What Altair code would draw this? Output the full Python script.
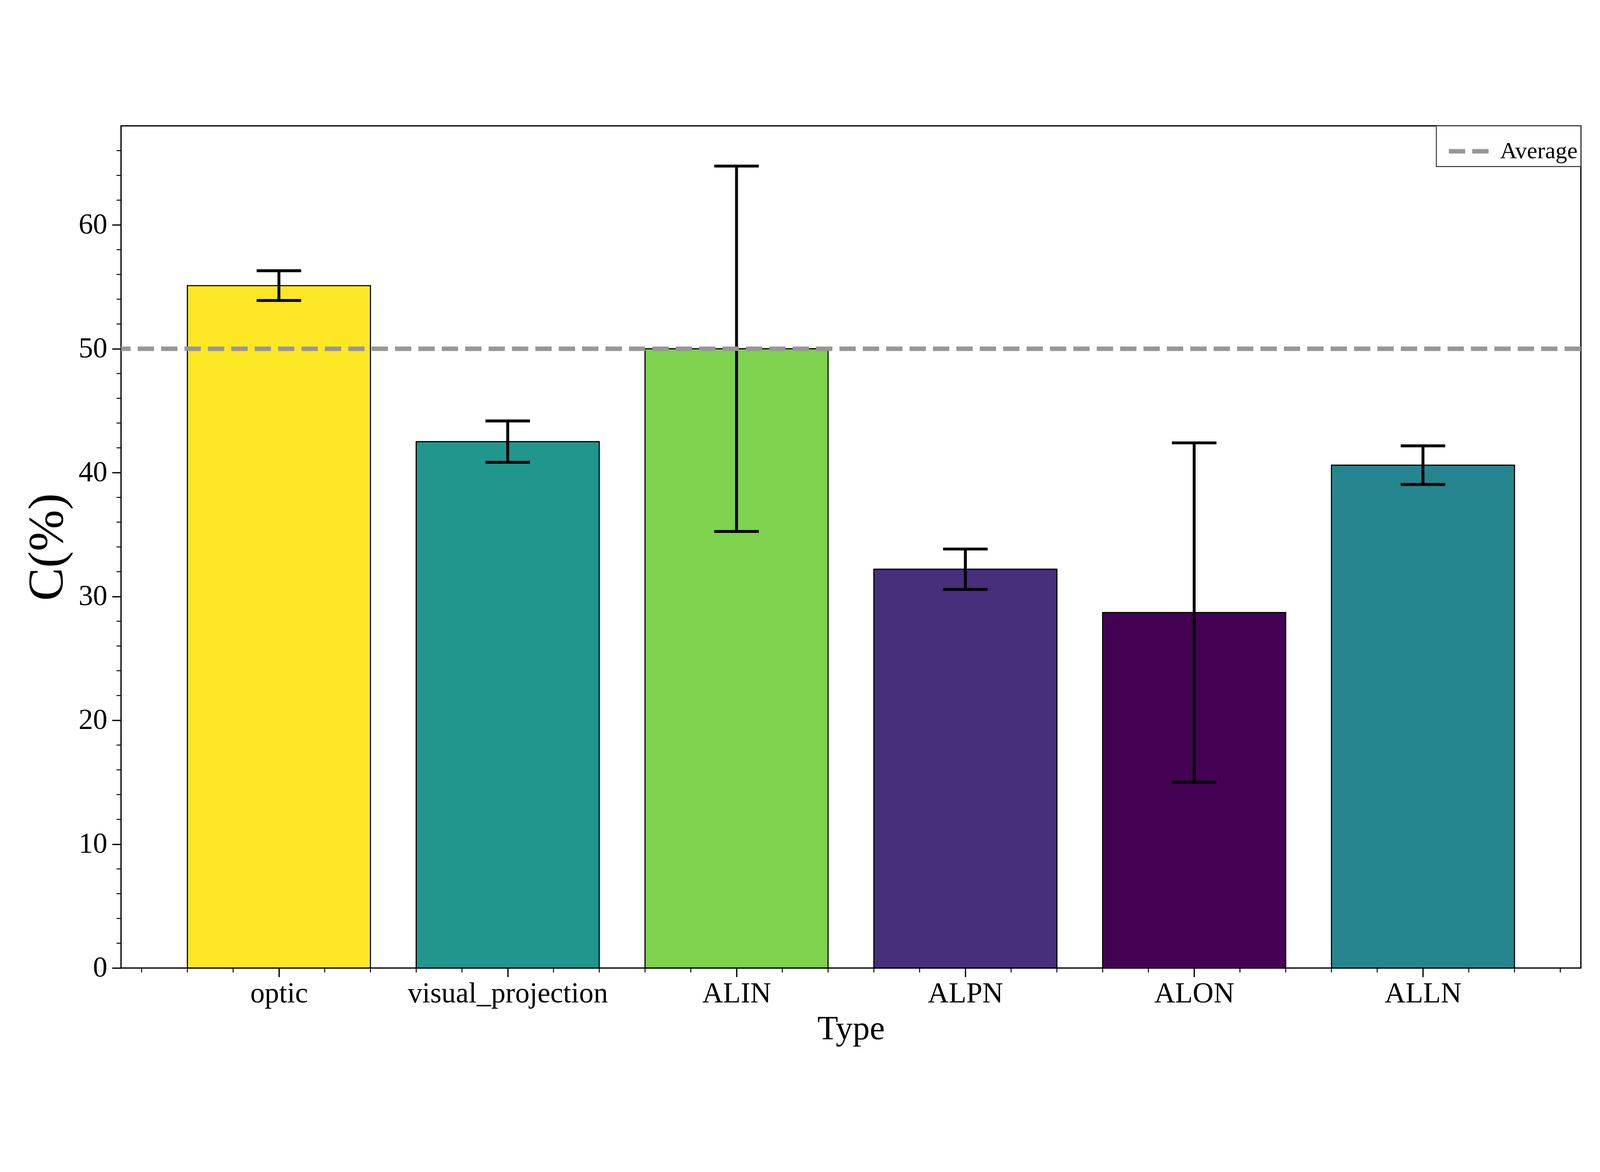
import json
import altair as alt
import pandas as pd

# ---- data ----
categories = ["optic", "visual_projection", "ALIN", "ALPN", "ALON", "ALLN"]
values = [55.1, 42.5, 50.0, 32.2, 28.7, 40.6]
errors = [1.2, 1.67, 14.75, 1.63, 13.7, 1.56]
average_value = 50.0
average_label = "Average"
y_major_ticks = [0, 10, 20, 30, 40, 50, 60]
y_minor_ticks = [2, 4, 6, 8, 12, 14, 16, 18, 22, 24, 26, 28, 32, 34, 36, 38,
                 42, 44, 46, 48, 52, 54, 56, 58, 62, 64, 66]
x_minor_ticks = [-0.6, -0.4, -0.2, 0.2, 0.4, 0.6, 0.8, 1.2, 1.4, 1.6, 1.8,
                 2.2, 2.4, 2.6, 2.8, 3.2, 3.4, 3.6, 3.8, 4.2, 4.4, 4.6, 4.8,
                 5.2, 5.4, 5.6]

positions = list(range(len(categories)))
df = pd.DataFrame({"type": categories, "pos": positions, "value": values, "err": errors})
avg_df = pd.DataFrame({"label": [average_label], "avg": [average_value]})
ymin_df = pd.DataFrame({"yv": y_minor_ticks})
xmin_df = pd.DataFrame({"xv": x_minor_ticks})

W, H = 4556, 2628
FONT = "Liberation Serif"

x_scale = alt.Scale(domain=[-0.69, 5.69], nice=False, zero=False)
y_scale = alt.Scale(domain=[0, 68.0], nice=False, zero=False)

label_expr = json.dumps(categories) + "[datum.value]"

x_axis = alt.Axis(
    values=positions, labelExpr=label_expr, title="Type",
    labelPadding=8, labelLimit=3000, titleFontSize=106, titleX=W / 2, titleY=138,
    titleBaseline="top", titleAlign="center",
)
y_axis = alt.Axis(
    values=y_major_ticks, title="C(%)", labelPadding=15, labelLimit=3000,
    titleFontSize=155, titleX=-150, titleY=H / 2, titleAngle=270,
    titleBaseline="bottom", titleAlign="center",
)

base = alt.Chart(df)

bars = base.transform_calculate(
    x0="datum.pos - 0.4", x1="datum.pos + 0.4"
).mark_rect(stroke="black", strokeWidth=3.5).encode(
    x=alt.X("x0:Q", scale=x_scale, axis=x_axis),
    x2="x1:Q",
    y=alt.Y("value:Q", scale=y_scale, axis=y_axis),
    y2=alt.datum(0),
    fill=alt.Fill("value:Q", scale=alt.Scale(scheme="viridis", nice=False, zero=False), legend=None),
)

err = base.transform_calculate(
    lo="datum.value - datum.err", hi="datum.value + datum.err"
)

err_lines = err.mark_rule(color="black", strokeWidth=9).encode(
    x="pos:Q", y="lo:Q", y2="hi:Q"
)
cap_lo = err.mark_tick(orient="horizontal", size=139, thickness=9, color="black", opacity=1).encode(
    x="pos:Q", y="lo:Q"
)
cap_hi = err.mark_tick(orient="horizontal", size=139, thickness=9, color="black", opacity=1).encode(
    x="pos:Q", y="hi:Q"
)

# minor ticks (matplotlib-style), drawn through the shared scales
y_minor = alt.Chart(ymin_df).mark_rule(color="black", strokeWidth=3).encode(
    y="yv:Q", x=alt.value(-14), x2=alt.value(0)
)
x_minor = alt.Chart(xmin_df).mark_rule(color="black", strokeWidth=3).encode(
    x="xv:Q", y=alt.value(H), y2=alt.value(H + 14)
)

avg = alt.Chart(avg_df).mark_rule(strokeWidth=14, strokeDash=[51, 22]).encode(
    y="avg:Q",
    stroke=alt.Stroke(
        "label:N",
        scale=alt.Scale(domain=[average_label], range=["#979797"]),
        legend=alt.Legend(
            title=None, orient="top-right", offset=0, padding=10,
            strokeColor="#333333", fillColor="white",
            labelFont=FONT, labelFontSize=73, labelColor="black", labelLimit=3000,
            labelExpr="datum.label + '\u00a0'",
            symbolType="stroke", symbolSize=15625, symbolStrokeWidth=14,
            symbolDash=[51, 22], symbolOffset=22, labelOffset=28, cornerRadius=0,
        ),
    ),
)

chart = alt.layer(bars, err_lines, cap_lo, cap_hi, y_minor, x_minor, avg).properties(
    width=W, height=H,
    padding={"left": 368, "top": 58, "right": 50, "bottom": 280},
    autosize=alt.AutoSizeParams(type="none"),
).configure_view(
    stroke="black", strokeWidth=4
).configure_axis(
    domain=False, grid=False, tickColor="black", tickWidth=4, tickSize=28,
    labelFont=FONT, labelFontSize=90, labelColor="black",
    titleFont=FONT, titleColor="black", titleFontWeight="normal",
).configure_legend(strokeWidth=3)

chart.save("out.html", embed_options={"renderer": "svg", "actions": False})
